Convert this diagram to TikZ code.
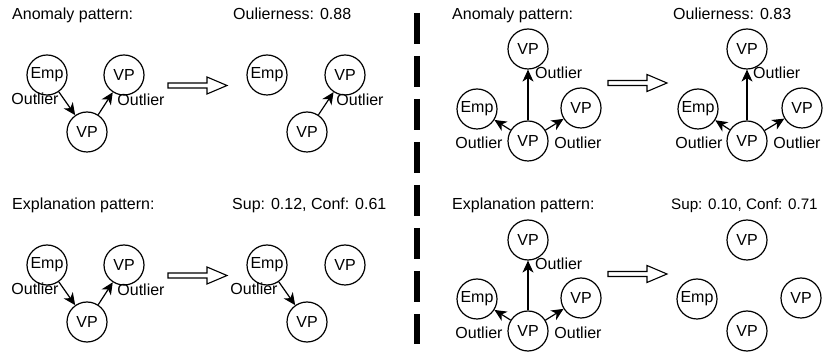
\documentclass[tikz,border=0pt]{standalone}
\usepackage{fontspec}
\setmainfont{Liberation Sans}
\usetikzlibrary{arrows.meta}
\begin{document}
\begin{tikzpicture}[x=1pt,y=-1pt,
  every node/.style={font=\fontsize{16pt}{19pt}\selectfont},
  entity/.style={circle,draw,line width=1.2pt,minimum size=40pt,inner sep=0pt},
  caption/.style={anchor=west,inner sep=0pt,text height=11.5pt,text depth=3.4pt},
  rel/.style={inner sep=0pt,text height=11.5pt,text depth=0pt},
  link/.style={line width=1.2pt,-{Stealth[length=12pt,width=11pt,inset=3.5pt]}},
  implies/.style={line width=1.1pt,fill=white,line join=miter}
]
\useasboundingbox (0,0) rectangle (825,352);

% ---------- left half: anomaly pattern ----------
\node[caption] (tA1) at (12,15) {Anomaly pattern:};
\node[entity] (a1emp) at (47,75) {Emp};
\node[entity] (a1vpr) at (124,75) {VP};
\node[entity] (a1vp) at (87,132) {VP};
\draw[link] (a1emp) -- (a1vp);
\draw[link] (a1vp) -- (a1vpr);
\node[rel] (a1l1) at (35,99) {Outlier};
\node[rel] (a1l2) at (141,100) {Outlier};
\draw[implies] (168,83) -- (207,83) -- (207,77) -- (227,85.5) -- (207,94) -- (207,88) -- (168,88) -- cycle;

\node[caption] (tB1) at (233,15) {Oulierness: 0.88};
\node[entity] (b1emp) at (267,75) {Emp};
\node[entity] (b1vpr) at (345,75) {VP};
\node[entity] (b1vp) at (307,132) {VP};
\draw[link] (b1vp) -- (b1vpr);
\node[rel] (b1l1) at (360,100) {Outlier};

% ---------- left half: explanation pattern ----------
\node[caption] (tA2) at (12,205) {Explanation pattern:};
\node[entity] (a2emp) at (47,265) {Emp};
\node[entity] (a2vpr) at (124,265) {VP};
\node[entity] (a2vp) at (87,322) {VP};
\draw[link] (a2emp) -- (a2vp);
\draw[link] (a2vp) -- (a2vpr);
\node[rel] (a2l1) at (35,289) {Outlier};
\node[rel] (a2l2) at (141,290) {Outlier};
\draw[implies] (168,273) -- (207,273) -- (207,267) -- (227,275.5) -- (207,284) -- (207,278) -- (168,278) -- cycle;

\node[caption] (tB2) at (232,205) {Sup: 0.12, Conf: 0.61};
\node[entity] (b2emp) at (267,265) {Emp};
\node[entity] (b2vpr) at (345,265) {VP};
\node[entity] (b2vp) at (307,322) {VP};
\draw[link] (b2emp) -- (b2vp);
\node[rel] (b2l1) at (254,289) {Outlier};

% ---------- divider ----------
\coordinate (divtop) at (417,13);
\coordinate (divbot) at (417,344);
\draw[line width=6pt,dash pattern=on 31pt off 12pt] (divtop) -- (divbot);

% ---------- right half: anomaly pattern ----------
\node[caption] (tC1) at (452,15) {Anomaly pattern:};
\node[entity] (c1top) at (528,49) {VP};
\node[entity] (c1emp) at (477,109) {Emp};
\node[entity] (c1vpr) at (581,108) {VP};
\node[entity] (c1vp) at (528,141) {VP};
\draw[link] (c1vp) -- (c1top);
\draw[link] (c1vp) -- (c1emp);
\draw[link] (c1vp) -- (c1vpr);
\node[rel,anchor=west] (c1l1) at (535,73) {Outlier};
\node[rel] (c1l2) at (479,143) {Outlier};
\node[rel] (c1l3) at (578,143) {Outlier};
\draw[implies] (608,80.5) -- (647,80.5) -- (647,74.5) -- (667,83) -- (647,91.5) -- (647,85.5) -- (608,85.5) -- cycle;

\node[caption] (tD1) at (673,15) {Oulierness: 0.83};
\node[entity] (d1top) at (747,49) {VP};
\node[entity] (d1emp) at (698,109) {Emp};
\node[entity] (d1vpr) at (802,108) {VP};
\node[entity] (d1vp) at (747,141) {VP};
\draw[link] (d1vp) -- (d1top);
\draw[link] (d1vp) -- (d1emp);
\draw[link] (d1vp) -- (d1vpr);
\node[rel,anchor=west] (d1l1) at (753,73) {Outlier};
\node[rel] (d1l2) at (699,143) {Outlier};
\node[rel] (d1l3) at (797,143) {Outlier};

% ---------- right half: explanation pattern ----------
\node[caption] (tC2) at (452,205) {Explanation pattern:};
\node[entity] (c2top) at (528,240) {VP};
\node[entity] (c2emp) at (477,299) {Emp};
\node[entity] (c2vpr) at (581,298) {VP};
\node[entity] (c2vp) at (528,331) {VP};
\draw[link] (c2vp) -- (c2top);
\draw[link] (c2vp) -- (c2emp);
\draw[link] (c2vp) -- (c2vpr);
\node[rel,anchor=west] (c2l1) at (535,264) {Outlier};
\node[rel] (c2l2) at (479,333) {Outlier};
\node[rel] (c2l3) at (578,333) {Outlier};
\draw[implies] (608,271.5) -- (647,271.5) -- (647,265.5) -- (667,274) -- (647,282.5) -- (647,276.5) -- (608,276.5) -- cycle;

\node[caption,font=\fontsize{15.2pt}{18pt}\selectfont] (tD2) at (671,205) {Sup: 0.10, Conf: 0.71};
\node[entity] (d2top) at (747,240) {VP};
\node[entity] (d2emp) at (697,299) {Emp};
\node[entity] (d2vpr) at (801,298) {VP};
\node[entity] (d2vp) at (747,331) {VP};
\end{tikzpicture}
\end{document}
